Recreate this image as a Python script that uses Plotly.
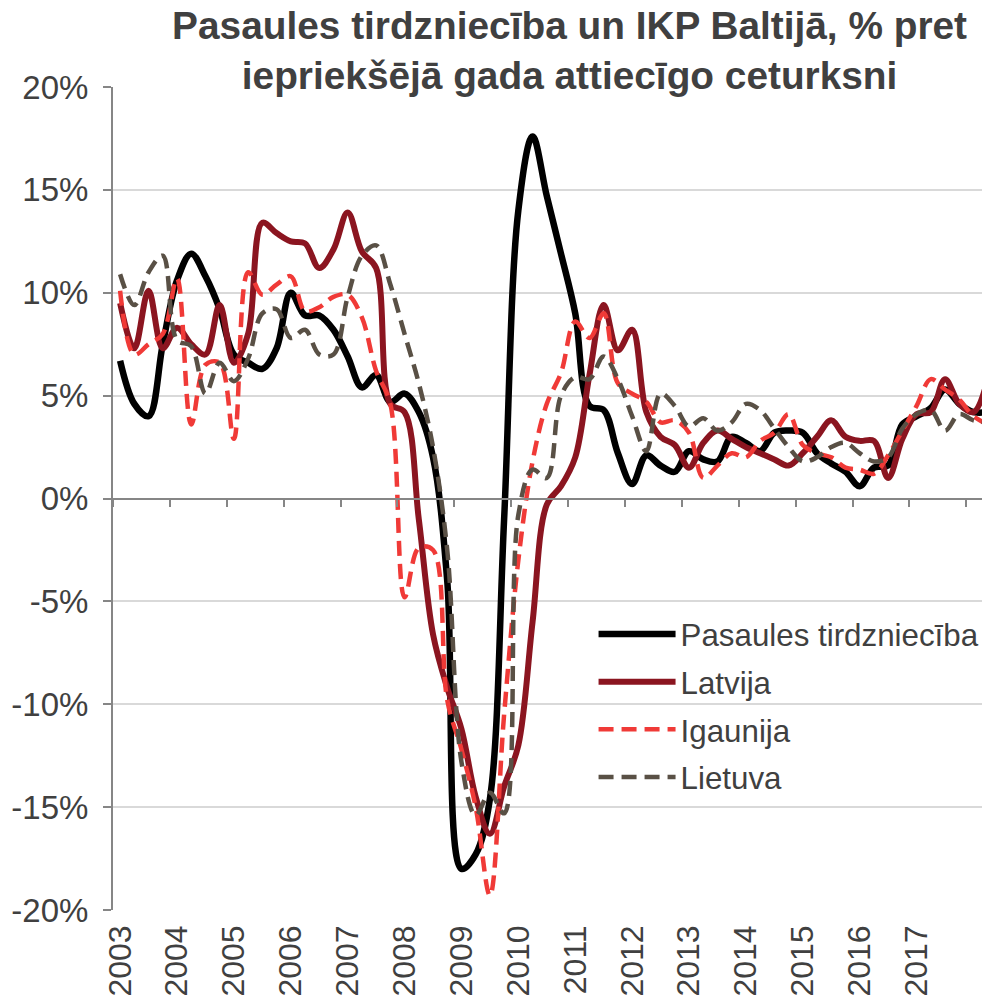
import plotly.graph_objects as go

years = [str(y) for y in range(2003, 2018)]
# quarterly observations 2003Q1 .. 2018Q2 (index 0..61)
quarters = [f"{2003 + i // 4}Q{i % 4 + 1}" for i in range(62)]

pasaules = [6.7, 4.6, 4.0, 7.5, 10.6, 11.9, 10.8, 9.2, 7.0, 6.6, 6.3, 7.3,
            10.0, 8.9, 8.9, 8.2, 6.9, 5.4, 6.0, 4.7, 5.1, 4.2, 2.0, -4.0,
            -18.0, -17.3, -14.6, -1.0, 14.0, 17.6, 14.7, 11.9, 9.0, 4.5, 4.3, 2.2,
            0.7, 2.1, 1.6, 1.3, 2.3, 1.9, 1.8, 3.0, 2.7, 2.3, 3.2, 3.3,
            3.2, 2.2, 1.7, 1.3, 0.6, 1.5, 1.6, 3.6, 4.0, 4.4, 5.3, 4.6,
            4.2, 4.2]

latvija = [9.5, 7.3, 10.1, 7.3, 8.3, 7.5, 7.0, 9.4, 6.6, 8.0, 13.4, 12.9,
           12.5, 12.4, 11.2, 12.1, 13.9, 12.0, 11.2, 4.6, 4.2, -1.0, -6.6, -9.2,
           -11.2, -14.5, -16.3, -14.0, -12.0, -6.0, -0.3, 0.6, 2.0, 6.0, 9.4, 7.2,
           8.2, 4.2, 3.0, 2.6, 1.5, 2.7, 3.3, 2.9, 2.5, 2.2, 1.9, 1.6,
           2.2, 3.0, 3.8, 3.0, 2.8, 2.8, 1.0, 2.9, 4.1, 4.2, 5.8, 4.6,
           4.2, 5.8]

igaunija = [10.1, 7.0, 7.5, 8.0, 10.7, 3.6, 6.5, 6.6, 2.9, 11.0, 9.9, 10.4,
            10.8, 9.1, 9.3, 9.8, 9.9, 8.8, 6.2, 4.6, -4.8, -2.4, -2.5, -9.8,
            -12.2, -15.0, -19.3, -10.5, -3.0, 1.8, 4.6, 6.1, 8.6, 7.8, 9.0, 5.6,
            5.1, 4.7, 3.7, 3.8, 3.2, 1.0, 1.6, 2.2, 2.0, 2.8, 3.2, 4.1,
            2.6, 2.2, 2.0, 1.5, 1.4, 1.2, 2.1, 3.3, 4.5, 5.8, 5.3, 4.8,
            4.0, 3.6]

lietuva = [10.9, 9.4, 11.0, 11.8, 7.7, 7.4, 5.1, 6.6, 5.7, 6.8, 9.0, 9.2,
           7.8, 8.2, 7.0, 7.0, 9.8, 11.8, 12.3, 10.4, 8.0, 5.6, 2.5, -2.5,
           -12.8, -15.4, -14.3, -15.3, -0.8, 1.4, 1.0, 5.0, 5.9, 5.8, 6.9, 5.8,
           4.0, 2.3, 5.1, 4.5, 3.5, 3.9, 3.3, 3.7, 4.6, 4.3, 3.4, 2.5,
           1.8, 2.0, 2.5, 2.7, 2.2, 1.8, 2.0, 3.4, 4.1, 4.3, 3.3, 4.1,
           3.8, 3.7]

y_ticks = [-20, -15, -10, -5, 0, 5, 10, 15, 20]
y_tick_text = [f"{v}%" for v in y_ticks]

idx = list(range(len(quarters)))
year_pos = [i for i in idx if quarters[i].endswith("Q1") and quarters[i][:4] in years]
year_text = [quarters[i][:4] for i in year_pos]
boundaries = [i - 0.5 for i in year_pos] + [year_pos[-1] + 3.5]

TEXT = "#404040"
AXIS = "#868686"
GRID = "#d9d9d9"
FONT = "Liberation Sans, Arial, sans-serif"

fig = go.Figure()
series = [
    ("Pasaules tirdzniecība", pasaules, "#000000", 6.5, "solid"),
    ("Latvija", latvija, "#8b1520", 6, "solid"),
    ("Igaunija", igaunija, "#f03a37", 4.5, "15px,8px"),
    ("Lietuva", lietuva, "#595045", 4.5, "15px,8px"),
]
for name, vals, col, w, dash in series:
    fig.add_trace(go.Scatter(
        x=idx, y=vals, name=name, mode="lines", legendgroup=name,
        line=dict(color=col, width=w, dash=dash, shape="spline", smoothing=1),
        hoverinfo="skip",
    ))

# helper (invisible) trace so the tick axis on the 0% line is drawn
fig.add_trace(go.Scatter(x=idx, y=[None] * len(idx), xaxis="x2", yaxis="y",
                         showlegend=False, hoverinfo="skip", mode="lines"))

xr = [-0.5, 60.6]
fig.update_layout(
    width=982, height=1000,
    margin=dict(l=113, r=0, t=87, b=90, autoexpand=False),
    paper_bgcolor="white", plot_bgcolor="white",
    font=dict(family=FONT, size=32, color=TEXT),
    title=dict(
        text="Pasaules tirdzniecība un IKP Baltijā, % pret<br>iepriekšējā gada attiecīgo ceturksni",
        x=0.58, xanchor="center", y=0.961, yanchor="top",
        font=dict(family=FONT, size=38.8, color=TEXT, weight="bold"),
    ),
    xaxis=dict(
        range=xr, tickmode="array", tickvals=year_pos, ticktext=year_text,
        tickangle=-90, ticks="", showgrid=False, showline=False, zeroline=False,
        ticklabelstandoff=8, automargin=False,
        tickfont=dict(size=32, color=TEXT),
    ),
    xaxis2=dict(
        range=xr, overlaying="x", anchor="free", position=0.5,
        tickmode="array", tickvals=boundaries, ticks="outside", ticklen=7,
        tickcolor=AXIS, tickwidth=2, showticklabels=False, showline=True,
        linecolor=AXIS, linewidth=2, showgrid=False, zeroline=False,
        automargin=False,
    ),
    yaxis=dict(
        range=[-20, 20], tickmode="array", tickvals=y_ticks, ticktext=y_tick_text,
        showgrid=True, gridcolor=GRID, gridwidth=2, zeroline=False,
        showline=True, linecolor=AXIS, linewidth=2, ticks="outside", ticklen=8,
        tickcolor=AXIS, tickwidth=2, ticklabelstandoff=8, automargin=False,
        tickfont=dict(size=33, color=TEXT),
    ),
    legend=dict(
        x=0.553, y=0.368, xanchor="left", yanchor="top",
        bgcolor="rgba(0,0,0,0)", font=dict(size=31.3, color=TEXT),
        itemwidth=77, tracegroupgap=4,
    ),
    showlegend=True,
)

fig.write_html("out.html", config={"displayModeBar": False},
               post_script="document.body.style.margin='0px';")
